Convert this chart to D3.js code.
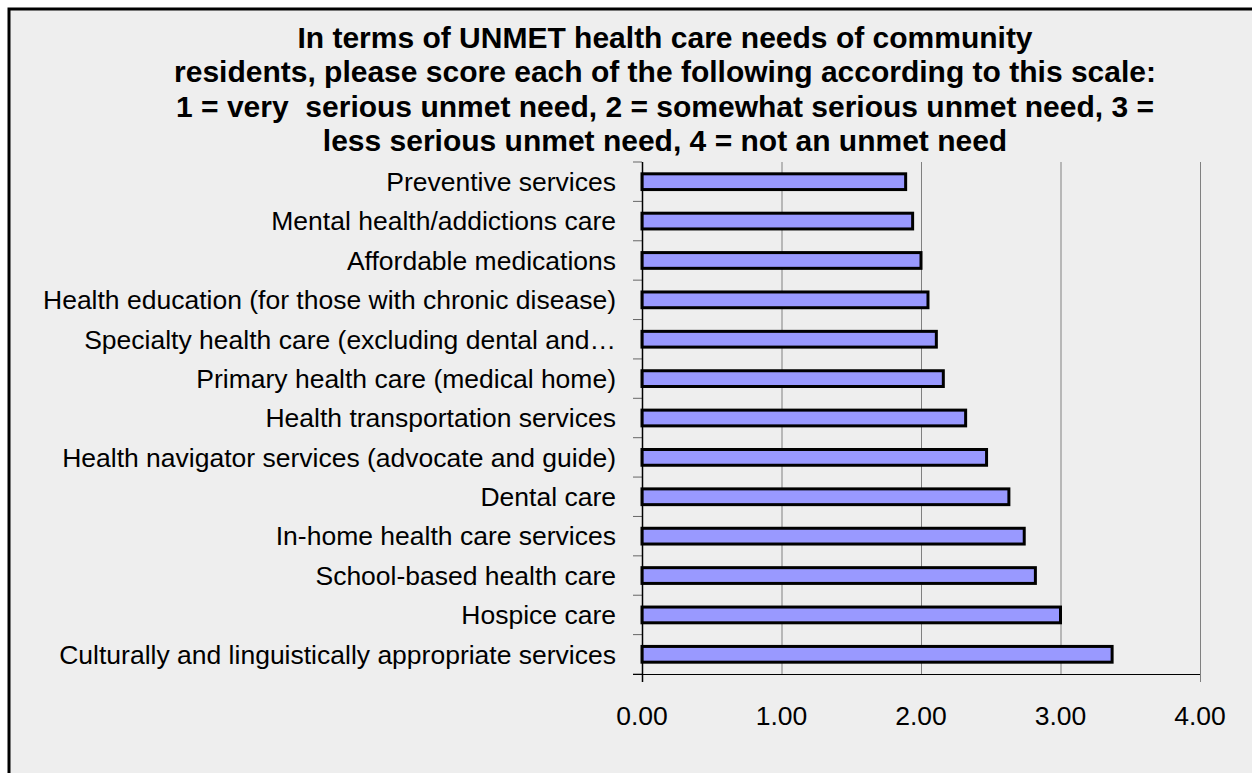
<!DOCTYPE html>
<html>
<head>
<meta charset="utf-8">
<script src="https://cdn.jsdelivr.net/npm/d3@7"></script>
<style>
  html, body { margin: 0; padding: 0; background: #ffffff; overflow: hidden; }
  svg { display: block; font-family: "Liberation Sans", Arial, sans-serif; }
</style>
</head>
<body>
<script>
// Survey categories (top to bottom) and their mean scores
const categories = [
  "Preventive services",
  "Mental health/addictions care",
  "Affordable medications",
  "Health education (for those with chronic disease)",
  "Specialty health care (excluding dental and\u2026",
  "Primary health care (medical home)",
  "Health transportation services",
  "Health navigator services (advocate and guide)",
  "Dental care",
  "In-home health care services",
  "School-based health care",
  "Hospice care",
  "Culturally and linguistically appropriate services"
];
const scores = [1.89, 1.94, 2.00, 2.05, 2.11, 2.16, 2.32, 2.47, 2.63, 2.74, 2.82, 3.00, 3.37];
const tickValues = [0, 1, 2, 3, 4];
const titleLines = [
  "In terms of UNMET health care needs of community",
  "residents, please score each of the following according to this scale:",
  "1 = very  serious unmet need, 2 = somewhat serious unmet need, 3 =",
  "less serious unmet need, 4 = not an unmet need"
];

const W = 1252, H = 773;
const plot = { left: 642, right: 1200, top: 162, bottom: 674 };

const svg = d3.select("body").append("svg")
  .attr("width", W).attr("height", H);

// chart area with heavy frame
svg.append("rect")
  .attr("x", 9).attr("y", 9)
  .attr("width", 1400).attr("height", 900)
  .attr("fill", "#eeeeee")
  .attr("stroke", "#000").attr("stroke-width", 3);

// title
const title = svg.append("g").attr("font-weight", "bold").attr("font-size", 30)
  .attr("text-anchor", "middle").attr("fill", "#000");
const titleBase = [47.5, 82, 116.5, 151];
titleLines.forEach((t, i) => {
  title.append("text")
    .attr("x", 665).attr("y", titleBase[i])
    .style("white-space", "pre")
    .attr("xml:space", "preserve")
    .text(t);
});

const x = d3.scaleLinear().domain([0, 4]).range([plot.left, plot.right]);
const y = d3.scaleBand().domain(categories)
  .range([plot.top, plot.bottom])
  .paddingInner(0.6).paddingOuter(0.3);

// vertical gridlines
svg.append("g").selectAll("line")
  .data(tickValues.filter(v => v > 0))
  .join("line")
  .attr("x1", d => x(d) + 0.5).attr("x2", d => x(d) + 0.5)
  .attr("y1", plot.top)
  .attr("y2", d => d === 4 ? plot.bottom + 8 : plot.bottom)
  .attr("stroke", "#808080").attr("stroke-width", 1);

// bars
svg.append("g").selectAll("rect")
  .data(categories)
  .join("rect")
  .attr("x", x(0))
  .attr("y", d => y(d))
  .attr("width", (d, i) => x(scores[i]) - x(0))
  .attr("height", y.bandwidth())
  .attr("fill", "#9999ff")
  .attr("stroke", "#000").attr("stroke-width", 3);

// category axis
const yAxis = svg.append("g");
const step = y.step();
const bounds = d3.range(categories.length + 1).map(i => plot.top + i * step);
yAxis.selectAll("line.tick")
  .data(bounds)
  .join("line")
  .attr("class", "tick")
  .attr("x1", plot.left - 9).attr("x2", plot.left)
  .attr("y1", d => d).attr("y2", d => d)
  .attr("stroke", "#666").attr("stroke-width", 1);
yAxis.append("line")
  .attr("x1", plot.left + 0.5).attr("x2", plot.left + 0.5)
  .attr("y1", plot.top).attr("y2", plot.bottom + 8)
  .attr("stroke", "#000").attr("stroke-width", 1.5);
yAxis.selectAll("text")
  .data(categories)
  .join("text")
  .attr("x", 616)
  .attr("y", d => y(d) + y.bandwidth() / 2)
  .attr("dy", "0.35em")
  .attr("text-anchor", "end")
  .attr("font-size", 26.5)
  .attr("fill", "#000")
  .text(d => d);

// value axis
const xAxis = svg.append("g");
xAxis.append("line")
  .attr("x1", plot.left - 9).attr("x2", plot.right)
  .attr("y1", plot.bottom + 0.5).attr("y2", plot.bottom + 0.5)
  .attr("stroke", "#000").attr("stroke-width", 1.2);
xAxis.selectAll("text")
  .data(tickValues)
  .join("text")
  .attr("x", d => x(d))
  .attr("y", 725)
  .attr("text-anchor", "middle")
  .attr("font-size", 26.5)
  .attr("fill", "#000")
  .text(d => d3.format(".2f")(d));
</script>
</body>
</html>
